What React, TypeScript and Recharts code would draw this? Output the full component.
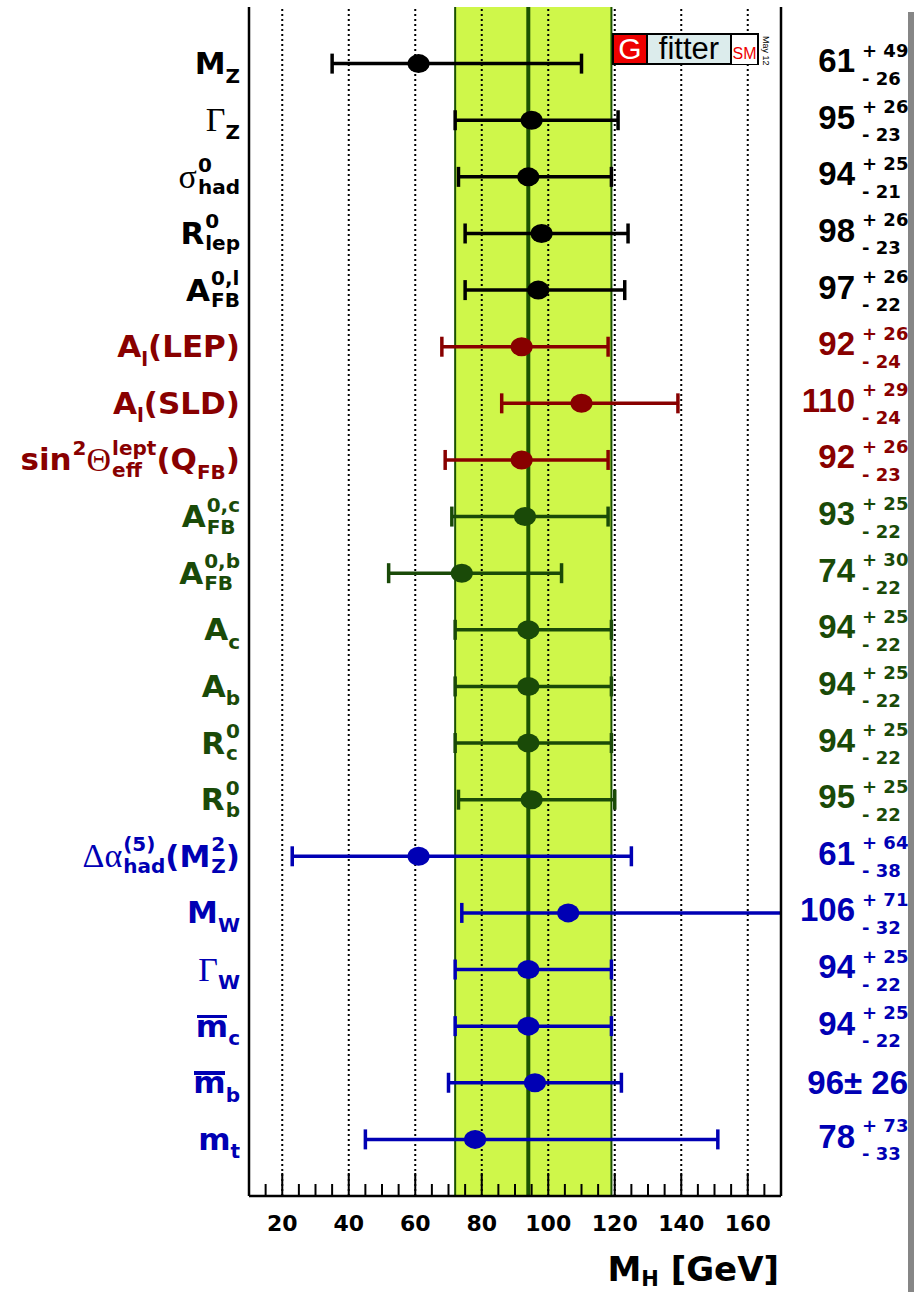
import React from "react";
import {
  ErrorBar,
  ReferenceArea,
  ReferenceLine,
  Scatter,
  ScatterChart,
  XAxis,
  YAxis,
} from "recharts";

// one row per observable, top to bottom
const labels = [
  "M_{Z}",
  "Γ_{Z}",
  "σ^{0}_{had}",
  "R^{0}_{lep}",
  "A^{0,l}_{FB}",
  "A_{l}(LEP)",
  "A_{l}(SLD)",
  "sin^{2}Θ^{lept}_{eff}(Q_{FB})",
  "A^{0,c}_{FB}",
  "A^{0,b}_{FB}",
  "A_{c}",
  "A_{b}",
  "R^{0}_{c}",
  "R^{0}_{b}",
  "Δα^{(5)}_{had}(M^{2}_{Z})",
  "M_{W}",
  "Γ_{W}",
  "\\bar{m}_{c}",
  "\\bar{m}_{b}",
  "m_{t}",
];
const central = [61, 95, 94, 98, 97, 92, 110, 92, 93, 74, 94, 94, 94, 95, 61, 106, 94, 94, 96, 78];
const errUp = [49, 26, 25, 26, 26, 26, 29, 26, 25, 30, 25, 25, 25, 25, 64, 71, 25, 25, 26, 73];
const errDown = [26, 23, 21, 23, 22, 24, 24, 23, 22, 22, 22, 22, 22, 22, 38, 32, 22, 22, 26, 33];
const groupOf = [0, 0, 0, 0, 0, 1, 1, 1, 2, 2, 2, 2, 2, 2, 3, 3, 3, 3, 3, 3];
const groupColors = ["#000000", "#880000", "#1a4a08", "#0000b4"];

// full fit result
const fitCentral = 94;
const fitLow = 72;
const fitHigh = 119;

const majorTicks = [20, 40, 60, 80, 100, 120, 140, 160];
const minorTicks = [15, 20, 25, 30, 35, 40, 45, 50, 55, 60, 65, 70, 75, 80, 85, 90, 95, 100, 105, 110, 115, 120, 125, 130, 135, 140, 145, 150, 155, 160, 165];
const rows = labels.map((_, i) => i + 1);

const SANS = '"DejaVu Sans", "Liberation Sans", sans-serif';
const ARIAL = '"Liberation Sans", Arial, sans-serif';
const SERIF = '"Liberation Serif", "DejaVu Serif", serif';
const BAND = "#cff74a";
const DARK_GREEN = "#1b5200";
const frame = { stroke: "#000", strokeWidth: 2.5 };

// plot box of the chart below, used to clip the error bars that run past 170
const PLOT = { x: 249, y: 7, w: 532, h: 1189 };

type Seg =
  | { kind: "txt" | "sub" | "sup" | "bar"; t: string }
  | { kind: "both"; sup: string; sub: string };

// tiny parser for ^{..} _{..} and \bar{..}
function parse(s: string): Seg[] {
  const out: Seg[] = [];
  const group = (start: number): [string, number] => {
    const end = s.indexOf("}", start);
    return [s.slice(start, end), end + 1];
  };
  const special = (j: number) =>
    s.startsWith("^{", j) || s.startsWith("_{", j) || s.startsWith("\\bar{", j);
  let i = 0;
  while (i < s.length) {
    if (s.startsWith("^{", i) || s.startsWith("_{", i)) {
      const first = s[i];
      const [a, n1] = group(i + 2);
      i = n1;
      const other = first === "^" ? "_{" : "^{";
      if (s.startsWith(other, i)) {
        const [b, n2] = group(i + 2);
        i = n2;
        out.push(first === "^" ? { kind: "both", sup: a, sub: b } : { kind: "both", sup: b, sub: a });
      } else {
        out.push({ kind: first === "^" ? "sup" : "sub", t: a });
      }
    } else if (s.startsWith("\\bar{", i)) {
      const [a, n] = group(i + 5);
      i = n;
      out.push({ kind: "bar", t: a });
    } else {
      let j = i;
      while (j < s.length && !special(j)) j++;
      out.push({ kind: "txt", t: s.slice(i, j) });
      i = j;
    }
  }
  return out;
}

function plain(t: string, key: string) {
  return t
    .split(/([ΓσΘΔα])/)
    .filter(Boolean)
    .map((p, k) =>
      /[ΓσΘΔα]/.test(p) ? (
        <span key={key + k} style={{ fontFamily: SERIF, fontWeight: "normal", fontSize: 34, lineHeight: 1 }}>
          {p}
        </span>
      ) : (
        <span key={key + k} style={{ fontSize: 31, lineHeight: 1, whiteSpace: "pre" }}>
          {p}
        </span>
      )
    );
}

function RichLabel({ text }: { text: string }) {
  const small = { fontSize: 20, lineHeight: 1 };
  return (
    <>
      {parse(text).map((seg, k) => {
        const key = "s" + k;
        if (seg.kind === "txt") return plain(seg.t, key);
        if (seg.kind === "sub")
          return (
            <span key={key} style={{ ...small, position: "relative", top: 12 }}>
              {seg.t}
            </span>
          );
        if (seg.kind === "sup")
          return (
            <span key={key} style={{ ...small, position: "relative", top: -12, marginLeft: 1 }}>
              {seg.t}
            </span>
          );
        if (seg.kind === "bar")
          return (
            <span key={key} style={{ position: "relative", fontSize: 31, lineHeight: 1 }}>
              {seg.t}
              <span style={{ position: "absolute", left: 1, right: 1, top: 4, height: 3.5, background: "currentColor" }} />
            </span>
          );
        return (
          <span
            key={key}
            style={{ display: "inline-flex", flexDirection: "column", gap: 2, position: "relative", top: -1, marginLeft: 1 }}
          >
            <span style={small}>{seg.sup}</span>
            <span style={small}>{seg.sub}</span>
          </span>
        );
      })}
    </>
  );
}

function LabelTick(props: any) {
  const { x, y, payload } = props;
  const i = payload.value - 1;
  if (i < 0 || i >= labels.length) return <g />;
  return (
    <foreignObject x={x - 249} y={y - 30} width={240} height={60}>
      <div
        style={{
          display: "flex",
          justifyContent: "flex-end",
          alignItems: "center",
          height: 60,
          whiteSpace: "nowrap",
          fontFamily: SANS,
          fontWeight: "bold",
          color: groupColors[groupOf[i]],
        }}
      >
        <RichLabel text={labels[i]} />
      </div>
    </foreignObject>
  );
}

function ValueTick(props: any) {
  const { x, y, payload } = props;
  const i = payload.value - 1;
  if (i < 0 || i >= labels.length) return <g />;
  const sym = errUp[i] === errDown[i];
  return (
    <foreignObject x={x} y={y - 30} width={133} height={60}>
      <div
        style={{
          display: "flex",
          alignItems: "center",
          height: 60,
          whiteSpace: "nowrap",
          fontWeight: "bold",
          color: groupColors[groupOf[i]],
        }}
      >
        {sym ? (
          <span style={{ marginLeft: "auto", marginRight: 6, fontFamily: ARIAL, fontSize: 33, lineHeight: 1 }}>
            {central[i]}± {errUp[i]}
          </span>
        ) : (
          <>
            <span
              style={{
                width: 74,
                flexShrink: 0,
                textAlign: "right",
                fontFamily: ARIAL,
                fontSize: 33,
                lineHeight: 1,
                position: "relative",
                top: -3,
              }}
            >
              {central[i]}
            </span>
            <span
              style={{
                display: "inline-flex",
                flexDirection: "column",
                marginLeft: 7,
                fontFamily: SANS,
                fontSize: 18,
                lineHeight: "18px",
                gap: 10,
                position: "relative",
                top: 1,
              }}
            >
              <span>+ {errUp[i]}</span>
              <span>- {errDown[i]}</span>
            </span>
          </>
        )}
      </div>
    </foreignObject>
  );
}

function BottomTick(props: any) {
  const { x, y, payload } = props;
  const major = payload.value % 20 === 0;
  return (
    <g>
      <line x1={x} x2={x} y1={y} y2={y - (major ? 23 : 12)} stroke="#000" strokeWidth={2} />
      {major && (
        <text x={x} y={y + 35} textAnchor="middle" fontFamily={SANS} fontWeight="bold" fontSize={22} fill="#000">
          {payload.value}
        </text>
      )}
    </g>
  );
}

function TopTick(props: any) {
  const { x, y, payload } = props;
  const major = payload.value % 20 === 0;
  return <line x1={x} x2={x} y1={y} y2={y + (major ? 22 : 11)} stroke="#000" strokeWidth={2} />;
}

function AxisTitle(props: any) {
  const vb = props.viewBox && props.viewBox.width ? props.viewBox : { x: 249, y: 1196, width: 532, height: 96 };
  return (
    <text
      x={vb.x + vb.width - 2}
      y={vb.y + 85}
      textAnchor="end"
      fontFamily={SANS}
      fontWeight="bold"
      fontSize={34}
      fill="#000"
    >
      M
      <tspan fontSize={21} dy={5}>
        H
      </tspan>
      <tspan dy={-5}>{"\u00a0[GeV]"}</tspan>
    </text>
  );
}

function Logo() {
  const cell = { display: "flex", alignItems: "center", justifyContent: "center", height: "100%" } as const;
  return (
    <>
      <div
        style={{
          position: "absolute",
          left: 612,
          top: 33,
          width: 147,
          height: 32,
          display: "flex",
          border: "2px solid #000",
          boxSizing: "border-box",
          fontFamily: ARIAL,
        }}
      >
        <div style={{ ...cell, width: 32, background: "#ee0000", color: "#fff", fontSize: 30 }}>G</div>
        <div
          style={{
            ...cell,
            width: 82,
            background: "#dcecec",
            borderLeft: "2px solid #000",
            borderRight: "2px solid #000",
            color: "#000",
            fontSize: 31,
          }}
        >
          fitter
        </div>
        <div
          style={{
            ...cell,
            flex: 1,
            background: "#fff",
            color: "#ee0000",
            fontSize: 16,
            alignItems: "flex-end",
            paddingBottom: 1,
          }}
        >
          SM
        </div>
      </div>
      <div
        style={{
          position: "absolute",
          left: 761,
          top: 36,
          fontFamily: ARIAL,
          fontSize: 9,
          color: "#000",
          transform: "rotate(90deg)",
          transformOrigin: "0 0",
          whiteSpace: "nowrap",
          marginLeft: 10,
        }}
      >
        May 12
      </div>
    </>
  );
}

export default function App() {
  const series = groupColors.map((color, g) => ({
    color,
    data: rows
      .filter((r) => groupOf[r - 1] === g)
      .map((r) => ({ x: central[r - 1], y: r, err: [errDown[r - 1], errUp[r - 1]] })),
  }));

  return (
    <div style={{ position: "absolute", left: 0, top: 0, width: 914, height: 1292, background: "#fff" }}>
      <style>{`.recharts-errorBars, .recharts-errorBar { clip-path: url(#plot-area-clip); }`}</style>
      <svg width={0} height={0} style={{ position: "absolute" }}>
        <defs>
          <clipPath id="plot-area-clip" clipPathUnits="userSpaceOnUse">
            <rect x={PLOT.x} y={PLOT.y} width={PLOT.w} height={PLOT.h} />
          </clipPath>
        </defs>
      </svg>
      <ScatterChart width={914} height={1292} margin={{ top: 7, right: 0, bottom: 0, left: 0 }}>
        <XAxis
          type="number"
          dataKey="x"
          domain={[10, 170]}
          allowDataOverflow
          ticks={minorTicks}
          interval={0}
          height={96}
          tickSize={0}
          tickMargin={0}
          tickLine={false}
          tick={BottomTick}
          axisLine={frame}
          label={<AxisTitle />}
        />
        <XAxis
          xAxisId="top"
          orientation="top"
          type="number"
          domain={[10, 170]}
          allowDataOverflow
          ticks={minorTicks}
          interval={0}
          height={0}
          tickSize={0}
          tickMargin={0}
          tickLine={false}
          tick={TopTick}
          axisLine={frame}
        />
        <YAxis
          type="number"
          dataKey="y"
          domain={[0, 21]}
          reversed
          allowDataOverflow
          ticks={rows}
          interval={0}
          width={249}
          tickSize={0}
          tickMargin={0}
          tickLine={false}
          tick={LabelTick}
          axisLine={frame}
        />
        <YAxis
          yAxisId="right"
          orientation="right"
          type="number"
          domain={[0, 21]}
          reversed
          allowDataOverflow
          ticks={rows}
          interval={0}
          width={133}
          tickSize={0}
          tickMargin={0}
          tickLine={false}
          tick={ValueTick}
          axisLine={frame}
        />

        <ReferenceArea x1={fitLow} x2={fitHigh} fill={BAND} fillOpacity={1} stroke="none" />
        {majorTicks.map((v) => (
          <ReferenceLine key={v} x={v} stroke="#000" strokeWidth={2} strokeDasharray="2 3" />
        ))}
        <ReferenceLine x={fitLow} stroke={DARK_GREEN} strokeWidth={2} />
        <ReferenceLine x={fitHigh} stroke={DARK_GREEN} strokeWidth={2} />
        <ReferenceLine x={fitCentral} stroke={DARK_GREEN} strokeWidth={4} />

        {series.map((s, g) => (
          <Scatter
            key={g}
            data={s.data}
            isAnimationActive={false}
            shape={(p: any) => <ellipse cx={p.cx} cy={p.cy} rx={11} ry={9.5} fill={s.color} />}
          >
            <ErrorBar dataKey="err" direction="x" width={10} stroke={s.color} strokeWidth={3.5} />
          </Scatter>
        ))}
      </ScatterChart>
      <Logo />
      <div style={{ position: "absolute", left: 908, top: 12, width: 6, height: 1280, background: "#868686" }} />
    </div>
  );
}
